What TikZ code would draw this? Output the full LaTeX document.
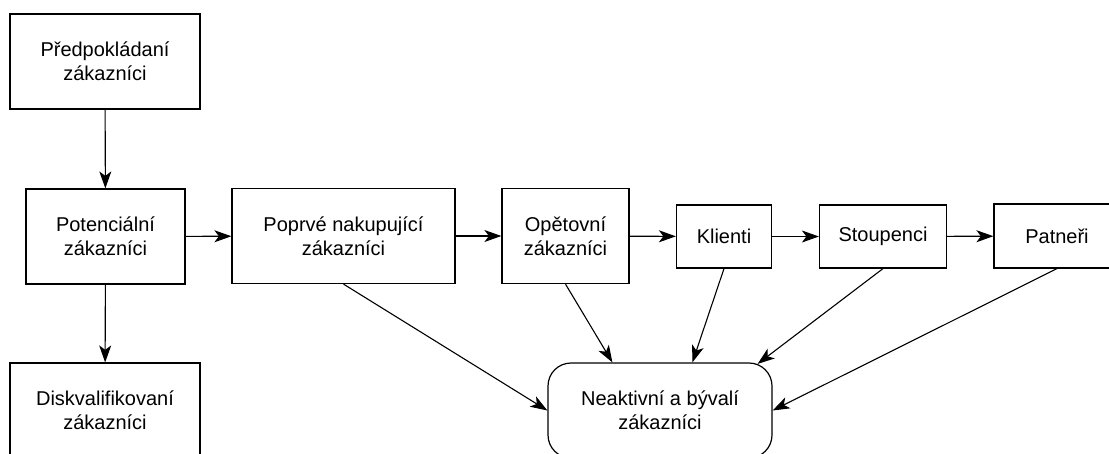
\documentclass[tikz,border=0pt]{standalone}
\usepackage{fontspec}
\setmainfont{Liberation Sans}
\usetikzlibrary{arrows.meta,positioning}
\begin{document}
\begin{tikzpicture}[x=1pt,y=-1pt,
  box/.style={draw,line width=1.2pt,align=center,inner sep=0pt,
    font=\fontsize{20}{24}\selectfont},
  arr/.style={line width=1.1pt,-{Stealth[length=17pt,width=12pt,inset=4.5pt]}}]
\useasboundingbox (0,0) rectangle (1109,453);
\clip (0,0) rectangle (1109,453);
\node[box,minimum width=190pt,minimum height=95pt] (pred) at (105,61.5) {Předpokládaní\\zákazníci};
\node[box,minimum width=159pt,minimum height=95pt] (pot) at (105.5,236.5) {Potenciální\\zákazníci};
\node[box,minimum width=190pt,minimum height=95pt] (disk) at (105,410.5) {Diskvalifikovaní\\zákazníci};
\node[box,minimum width=223pt,minimum height=95pt] (popr) at (343.5,236) {Poprvé nakupující\\zákazníci};
\node[box,minimum width=127pt,minimum height=95pt] (opet) at (565.5,236) {Opětovní\\zákazníci};
\node[box,minimum width=95pt,minimum height=63pt] (kli) at (724,236.5) {Klienti};
\node[box,minimum width=127pt,minimum height=63pt] (sto) at (883,236.5) {Stoupenci};
\node[box,minimum width=126pt,minimum height=64pt] (pat) at (1057,236) {Patneři};
\node[box,rounded corners=23pt,minimum width=224pt,minimum height=95pt] (neak) at (660,410.5) {Neaktivní a bývalí\\zákazníci};
\draw[arr] (pred) -- (pot);
\draw[arr] (pot) -- (disk);
\draw[arr] (pot) -- (popr);
\draw[arr] (popr) -- (opet);
\draw[arr] (opet) -- (kli);
\draw[arr] (kli) -- (sto);
\draw[arr] (sto) -- (pat);
\draw[arr] (popr.south) -- (neak.west);
\draw[arr] (opet.south) -- ([xshift=65pt]neak.north west);
\draw[arr] (kli.south) -- ([xshift=145pt]neak.north west);
\draw[arr] (sto.south) -- ([xshift=-15pt,yshift=-1.5pt]neak.north east);
\draw[arr] (pat.south) -- (neak.east);
\end{tikzpicture}
\end{document}
